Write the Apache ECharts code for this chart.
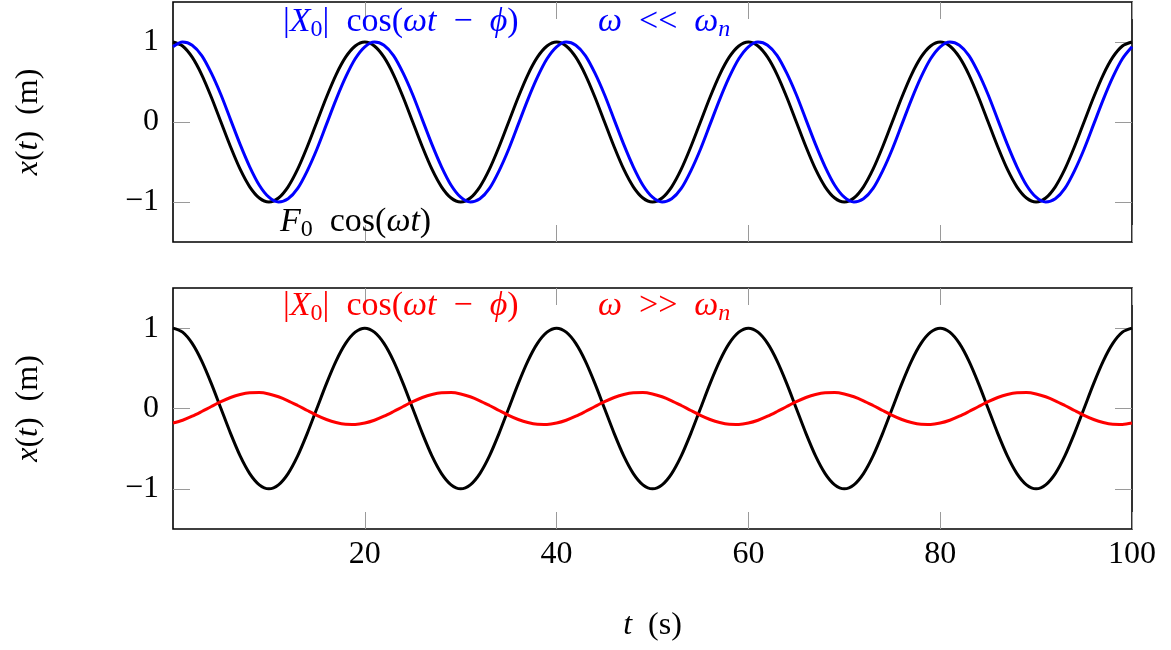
<!DOCTYPE html>
<html><head><meta charset="utf-8">
<script src="https://cdn.jsdelivr.net/npm/echarts@6/dist/echarts.min.js"></script>
<style>html,body{margin:0;padding:0;background:#fff}#c{width:1171px;height:650px}</style>
</head><body><div id="c"></div>
<script>
// time samples (s)
const time = [0,1,2,3,4,5,6,7,8,9,10,11,12,13,14,15,16,17,18,19,20,21,22,23,24,25,26,27,28,29,30,31,32,33,34,35,36,37,38,39,40,41,42,43,44,45,46,47,48,49,50,51,52,53,54,55,56,57,58,59,60,61,62,63,64,65,66,67,68,69,70,71,72,73,74,75,76,77,78,79,80,81,82,83,84,85,86,87,88,89,90,91,92,93,94,95,96,97,98,99,100];
// forcing F0 cos(wt) (black, both panels)
const forcing = [1,0.95,0.81,0.59,0.31,0,-0.31,-0.59,-0.81,-0.95,-1,-0.95,-0.81,-0.59,-0.31,0,0.31,0.59,0.81,0.95,
1,0.95,0.81,0.59,0.31,0,-0.31,-0.59,-0.81,-0.95,-1,-0.95,-0.81,-0.59,-0.31,0,0.31,0.59,0.81,0.95,
1,0.95,0.81,0.59,0.31,0,-0.31,-0.59,-0.81,-0.95,-1,-0.95,-0.81,-0.59,-0.31,0,0.31,0.59,0.81,0.95,
1,0.95,0.81,0.59,0.31,0,-0.31,-0.59,-0.81,-0.95,-1,-0.95,-0.81,-0.59,-0.31,0,0.31,0.59,0.81,0.95,
1,0.95,0.81,0.59,0.31,0,-0.31,-0.59,-0.81,-0.95,-1,-0.95,-0.81,-0.59,-0.31,0,0.31,0.59,0.81,0.95,1];
// response for w << wn (blue)
const responseLow = [0.94,1,0.96,0.83,0.61,0.34,0.03,-0.28,-0.56,-0.79,-0.94,-1,-0.96,-0.83,-0.61,-0.34,-0.03,0.28,0.56,0.79,
0.94,1,0.96,0.83,0.61,0.34,0.03,-0.28,-0.56,-0.79,-0.94,-1,-0.96,-0.83,-0.61,-0.34,-0.03,0.28,0.56,0.79,
0.94,1,0.96,0.83,0.61,0.34,0.03,-0.28,-0.56,-0.79,-0.94,-1,-0.96,-0.83,-0.61,-0.34,-0.03,0.28,0.56,0.79,
0.94,1,0.96,0.83,0.61,0.34,0.03,-0.28,-0.56,-0.79,-0.94,-1,-0.96,-0.83,-0.61,-0.34,-0.03,0.28,0.56,0.79,
0.94,1,0.96,0.83,0.61,0.34,0.03,-0.28,-0.56,-0.79,-0.94,-1,-0.96,-0.83,-0.61,-0.34,-0.03,0.28,0.56,0.79,0.94];
// response for w >> wn (red)
const responseHigh = [-0.181,-0.146,-0.096,-0.037,0.025,0.085,0.137,0.175,0.196,0.198,0.181,0.146,0.096,0.037,-0.025,-0.085,-0.137,-0.175,-0.196,-0.198,
-0.181,-0.146,-0.096,-0.037,0.025,0.085,0.137,0.175,0.196,0.198,0.181,0.146,0.096,0.037,-0.025,-0.085,-0.137,-0.175,-0.196,-0.198,
-0.181,-0.146,-0.096,-0.037,0.025,0.085,0.137,0.175,0.196,0.198,0.181,0.146,0.096,0.037,-0.025,-0.085,-0.137,-0.175,-0.196,-0.198,
-0.181,-0.146,-0.096,-0.037,0.025,0.085,0.137,0.175,0.196,0.198,0.181,0.146,0.096,0.037,-0.025,-0.085,-0.137,-0.175,-0.196,-0.198,
-0.181,-0.146,-0.096,-0.037,0.025,0.085,0.137,0.175,0.196,0.198,0.181,0.146,0.096,0.037,-0.025,-0.085,-0.137,-0.175,-0.196,-0.198,-0.181];
const xTicks = [20,40,60,80,100];
const yTicks = [-1,0,1];

const FONT = '"Liberation Serif", "DejaVu Serif", serif';
const FS = 32;
const AFS = 34;
const TICKC = '#9a9a9a';

function pairs(ys){ return time.map((t,i)=>[t, ys[i]]); }
function fmt(v){ return v < 0 ? '\u2212' + (-v) : String(v); }

function xAx(grid, pos, labels, extra){
  return Object.assign({
    type:'value', gridIndex:grid, position:pos, min:0, max:100,
    axisLine:{show:false, onZero:false}, splitLine:{show:false},
    axisTick:{show:true, inside:true, length:17, customValues:xTicks, lineStyle:{color:TICKC, width:1}},
    axisLabel:{show:labels, customValues:xTicks, formatter:fmt, margin:10, color:'#000', fontFamily:FONT, fontSize:FS}
  }, extra||{});
}
function yAx(grid, pos, labels, extra){
  return Object.assign({
    type:'value', gridIndex:grid, position:pos, min:-1.5, max:1.5,
    axisLine:{show:false, onZero:false}, splitLine:{show:false},
    axisTick:{show:true, inside:true, length:17, customValues:yTicks, lineStyle:{color:TICKC, width:1}},
    axisLabel:{show:labels, customValues:yTicks, formatter:fmt, margin:14, color:'#000', fontFamily:FONT, fontSize:FS}
  }, extra||{});
}
const nameRich = {
  i:{fontFamily:FONT, fontSize:FS, fontStyle:'italic', color:'#000'},
  r:{fontFamily:FONT, fontSize:FS, color:'#000'}
};
const yName = {
  name:'{i|x}{r|(}{i|t}{r|)  (m)}', nameLocation:'middle', nameGap:128, nameRotate:90,
  nameTextStyle:{rich:nameRich}
};

function txt(x, y, str, color){
  return {type:'text', x:x, y:y, z:100, style:{
    text:str, verticalAlign:'middle', align:'left',
    rich:{
      r:{fontFamily:FONT, fontSize:AFS, lineHeight:40, fill:color, verticalAlign:'middle'},
      i:{fontFamily:FONT, fontSize:AFS, lineHeight:40, fontStyle:'italic', fill:color, verticalAlign:'middle'},
      s:{fontFamily:FONT, fontSize:24, fill:color, verticalAlign:'bottom'},
      si:{fontFamily:FONT, fontSize:24, fontStyle:'italic', fill:color, verticalAlign:'bottom'}
    }
  }};
}
const formulaResp = '{r||}{i|X}{s|0}{r||  cos(}{i|\u03c9t}{r|  \u2212  }{i|\u03d5}{r|)}';

const chart = echarts.init(document.getElementById('c'), null, {renderer:'canvas'});
chart.setOption({
  animation:false,
  backgroundColor:'#fff',
  grid:[
    {left:173, top:2, width:959, height:240, show:true, borderColor:'#000', borderWidth:1.6, backgroundColor:'transparent'},
    {left:173, top:288, width:959, height:241, show:true, borderColor:'#000', borderWidth:1.6, backgroundColor:'transparent'}
  ],
  xAxis:[
    xAx(0,'bottom',false),
    xAx(0,'top',false),
    xAx(1,'bottom',true,{name:'{i|t}{r|  (s)}', nameLocation:'middle', nameGap:81, nameTextStyle:{rich:nameRich}}),
    xAx(1,'top',false)
  ],
  yAxis:[
    yAx(0,'left',true,yName),
    yAx(0,'right',false),
    yAx(1,'left',true,yName),
    yAx(1,'right',false)
  ],
  series:[
    {type:'line', xAxisIndex:0, yAxisIndex:0, data:pairs(forcing), showSymbol:false, smooth:0.3,
     lineStyle:{color:'#000', width:3}, z:3},
    {type:'line', xAxisIndex:0, yAxisIndex:0, data:pairs(responseLow), showSymbol:false, smooth:0.3,
     lineStyle:{color:'#0000ff', width:3}, z:4},
    {type:'line', xAxisIndex:2, yAxisIndex:2, data:pairs(forcing), showSymbol:false, smooth:0.3,
     lineStyle:{color:'#000', width:3}, z:3},
    {type:'line', xAxisIndex:2, yAxisIndex:2, data:pairs(responseHigh), showSymbol:false, smooth:0.3,
     lineStyle:{color:'#ff0000', width:3}, z:4}
  ],
  graphic:[
    txt(283, 22, formulaResp, '#0000ff'),
    txt(598, 22, '{i|\u03c9}{r|  <<  }{i|\u03c9}{si|n}', '#0000ff'),
    txt(280, 222, '{i|F}{s|0}{r|  cos(}{i|\u03c9t}{r|)}', '#000'),
    txt(283, 306, formulaResp, '#ff0000'),
    txt(598, 306, '{i|\u03c9}{r|  >>  }{i|\u03c9}{si|n}', '#ff0000')
  ]
});
</script></body></html>
